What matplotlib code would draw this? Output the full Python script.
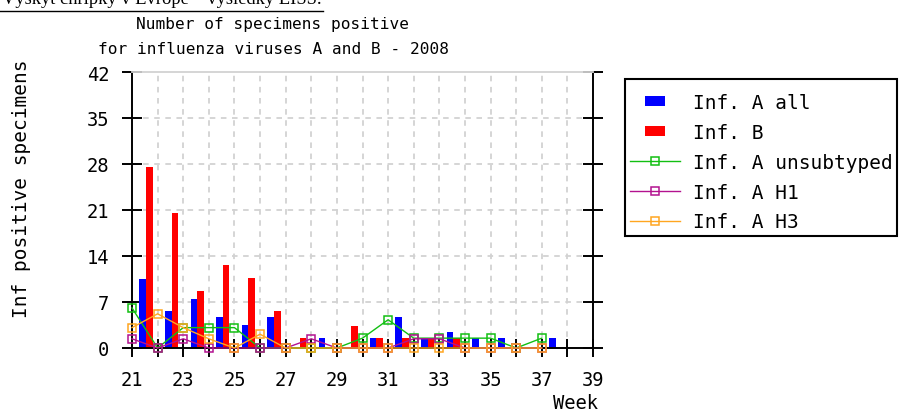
import matplotlib
matplotlib.use('Agg')
import matplotlib.pyplot as plt
from matplotlib.lines import Line2D
from matplotlib.patches import Rectangle
import numpy as np

plt.rcParams['lines.scale_dashes'] = False

# ---------------- data ----------------
bar_weeks = list(range(21, 38))
inf_a_all = [10.5, 5.6, 7.5, 4.7, 3.5, 4.7, 0, 1.5, 0, 1.5, 4.7, 1.5, 2.4, 1.5, 1.5, 0, 1.5]
inf_b = [27.5, 20.6, 8.7, 12.6, 10.6, 5.6, 1.5, 0, 3.4, 1.5, 1.5, 1.5, 1.5, 0, 0, 0, 0]

line_weeks = list(range(21, 38))
a_unsubtyped = [6.1, 0, 3.1, 3.1, 3.1, 0, 0, 0, 0, 1.5, 4.3, 1.5, 1.5, 1.5, 1.5, 0, 1.5]
a_h1 = [1.4, 0, 1.4, 0, 0, 0, 0, 1.4, 0, 0, 0, 1.4, 1.4, 0, 0, 0, 0]
a_h3 = [3.1, 5.2, 3.1, 1.4, 0, 2.1, 0, 0, 0, 0, 0, 0, 0, 0, 0, 0, 0]

x_ticks = list(range(21, 40))
x_labels = [str(w) if w % 2 == 1 else '' for w in x_ticks]
y_ticks = [0, 7, 14, 21, 28, 35, 42]

title_lines = ["Number of specimens positive", "for influenza viruses A and B - 2008"]
y_label = "Inf positive specimens"
x_label = "Week"
legend_labels = ["Inf. A all", "Inf. B", "Inf. A unsubtyped", "Inf. A H1", "Inf. A H3"]
top_link = "Výskyt chřipky v Evropě – výsledky EISS."

# ---------------- styling ----------------
W, H = 899, 414
MONO = ['DejaVu Sans Mono']
BLUE, RED = '#0000ff', '#ff0000'
GREEN, MAGENTA, ORANGE = '#12bf12', '#b3128f', '#ffa620'
GRID = '#d2d2d2'

fig = plt.figure(figsize=(W / 100, H / 100), dpi=100)
fig.patch.set_facecolor('white')

def fx(px):
    return px / W

def fy(py):
    return 1 - py / H

ax_l, ax_r, ax_t, ax_b = 132, 593, 73, 349
ax = fig.add_axes([fx(ax_l), fy(ax_b), (ax_r - ax_l) / W, (ax_b - ax_t) / H])
ax.set_xlim(21, 39)
ax.set_ylim(0, 42)

# grid
ax.set_axisbelow(True)
for w in x_ticks[1:-1]:
    ax.axvline(w, color=GRID, lw=1.3, dashes=(4, 4), zorder=0)
for v in y_ticks[1:-1]:
    ax.axhline(v, color=GRID, lw=1.3, dashes=(4, 4), zorder=0)

# bars
bw = 0.26
bx = np.array(bar_weeks, dtype=float)
ax.bar(bx + 0.285, inf_a_all, width=bw, align='edge', color=BLUE, zorder=2)
ax.bar(bx + 0.545, inf_b, width=bw, align='edge', color=RED, zorder=2)

# lines
lk = dict(lw=1.0, marker='s', markersize=6, mfc='none', mew=1.1, clip_on=False, zorder=5)
ax.plot(line_weeks, a_unsubtyped, color=GREEN, **lk)
ax.plot(line_weeks, a_h1, color=MAGENTA, **lk)
ax.plot(line_weeks, a_h3, color=ORANGE, **lk)

# spines
for s in ['left', 'bottom', 'right']:
    ax.spines[s].set_color('black')
    ax.spines[s].set_linewidth(1.4)
ax.spines['top'].set_color(GRID)
ax.spines['top'].set_linewidth(1.3)

ax.set_xticks(x_ticks)
ax.set_xticklabels(x_labels, family=MONO, fontsize=13.5)
ax.set_yticks(y_ticks)
ax.set_yticklabels([str(v) for v in y_ticks], family=MONO, fontsize=13.5)
ax.tick_params(axis='x', direction='inout', length=13, width=1.4, pad=9.5, colors='black')
ax.tick_params(axis='y', direction='inout', length=15, width=1.4, pad=9,
               left=True, right=True, colors='black')

# titles and labels
fig.text(fx(273), fy(25), title_lines[0], ha='center', va='center',
         family=MONO, fontsize=11.6)
fig.text(fx(274), fy(50), title_lines[1], ha='center', va='center',
         family=MONO, fontsize=11.6)
fig.text(fx(22), fy(189), y_label, rotation=90, ha='center', va='center',
         family=MONO, fontsize=14)
fig.text(fx(598), fy(404), x_label, ha='right', va='center',
         family=MONO, fontsize=13.5)

# legend (frame drawn separately)
rect = [(-1, -0.5), (1, -0.5), (1, 0.5), (-1, 0.5), (-1, -0.5)]
handles = [
    Line2D([], [], linestyle='none', marker=rect, markersize=14, color=BLUE, mew=0),
    Line2D([], [], linestyle='none', marker=rect, markersize=14, color=RED, mew=0),
    Line2D([], [], color=GREEN, lw=1.0, marker='s', markersize=6, mfc='none', mew=1.1),
    Line2D([], [], color=MAGENTA, lw=1.0, marker='s', markersize=6, mfc='none', mew=1.1),
    Line2D([], [], color=ORANGE, lw=1.0, marker='s', markersize=6, mfc='none', mew=1.1),
]
leg = fig.legend(handles, legend_labels, loc='upper left',
                 bbox_to_anchor=(fx(625), fy(89)), bbox_transform=fig.transFigure,
                 prop={'family': MONO, 'size': 14}, frameon=False,
                 borderpad=0.25, borderaxespad=0,
                 handlelength=2.6, handletextpad=0.65, labelspacing=0.56)
fig.add_artist(Rectangle((fx(625), fy(237)), fx(897) - fx(625), fy(80) - fy(237),
                         transform=fig.transFigure, fill=False, edgecolor='black', lw=1.5))

# partially visible link text at the very top
t = fig.text(fx(2), fy(4), top_link, ha='left', va='baseline',
             family=['Liberation Serif', 'DejaVu Serif'], fontsize=12, color='black')
fig.canvas.draw()
bb = t.get_window_extent()
t.set_fontsize(12 * 320 / bb.width)
fig.add_artist(Line2D([0, fx(323)], [fy(12), fy(12)], color='black', lw=1.0,
                      transform=fig.transFigure))

fig.savefig('out.png', dpi=100)
